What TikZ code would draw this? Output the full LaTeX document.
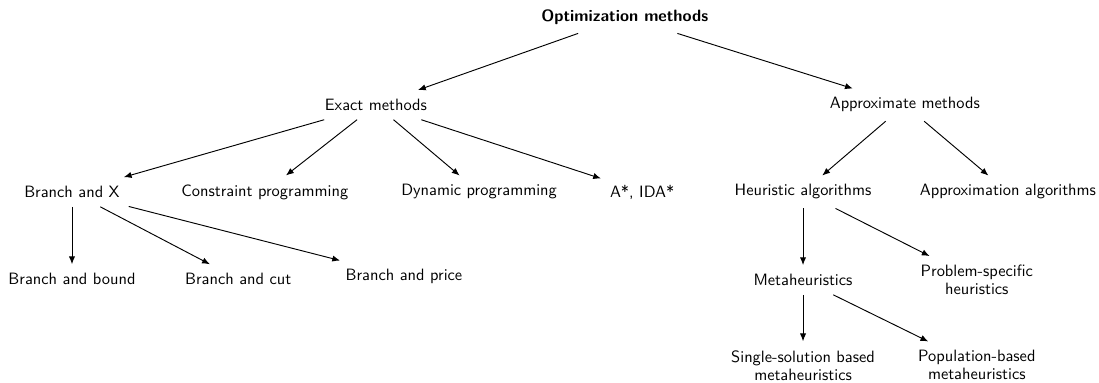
\documentclass[tikz,border=0pt]{standalone}
\usetikzlibrary{arrows.meta}

\begin{document}
\begin{tikzpicture}[line width=0.6pt,>={Latex[length=5pt,width=4pt]},
  every node/.style={font=\sffamily\fontsize{10.5pt}{11.5pt}\selectfont,
    inner sep=5.5pt,align=center}]
\useasboundingbox (0,0) rectangle (24.73,-8.6);
% top level
\node (opt) at (14.06,-0.38) {\bfseries Optimization methods};
\node (exact) at (8.46,-2.36) {Exact methods};
\node (approx) at (20.36,-2.36) {Approximate methods};
% exact methods
\node (bx) at (1.62,-4.32) {Branch and X};
\node (cp) at (5.96,-4.32) {Constraint programming};
\node (dp) at (10.78,-4.32) {Dynamic programming};
\node (astar) at (14.45,-4.32) {A*, IDA*};
% approximate methods
\node (heur) at (18.07,-4.32) {Heuristic algorithms};
\node (apalg) at (22.68,-4.32) {Approximation algorithms};
% branch and X
\node (bb) at (1.62,-6.28) {Branch and bound};
\node (bc) at (5.36,-6.28) {Branch and cut};
\node (bp) at (9.09,-6.23) {Branch and price};
% heuristics
\node (meta) at (18.07,-6.30) {Metaheuristics};
\node (probspec) at (21.98,-6.30) {Problem-specific\\heuristics};
\node (single) at (18.07,-8.22) {Single-solution based\\metaheuristics};
\node (pop) at (21.98,-8.22) {Population-based\\metaheuristics};
% edges
\draw[->] (opt) -- (exact);
\draw[->] (opt) -- (approx);
\foreach \t in {bx,cp,dp,astar}
  \draw[->] (exact) -- (\t);
\draw[->] (approx) -- (heur);
\draw[->] (approx) -- (apalg);
\foreach \t in {bb,bc,bp}
  \draw[->] (bx) -- (\t);
\draw[->] (heur) -- (meta);
\draw[->] (heur) -- (probspec);
\draw[->] (meta) -- (single);
\draw[->] (meta) -- (pop);
\end{tikzpicture}
\end{document}
